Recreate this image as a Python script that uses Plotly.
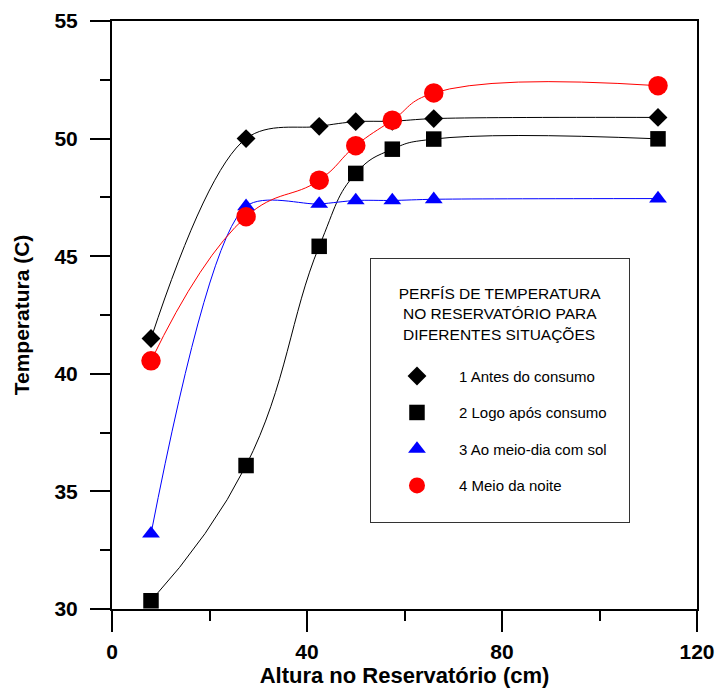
import plotly.graph_objects as go

altura = [8, 27.5, 42.5, 50, 57.5, 66, 112]
antes_consumo = [41.5, 50.0, 50.52, 50.72, 50.74, 50.85, 50.9]
apos_consumo = [30.35, 36.1, 45.42, 48.52, 49.55, 49.98, 49.99]
meio_dia_sol = [33.2, 47.12, 47.22, 47.37, 47.37, 47.42, 47.45]
meio_noite = [40.55, 46.68, 48.23, 49.7, 50.78, 51.94, 52.25]

names = ["1 Antes do consumo", "2 Logo após consumo",
         "3 Ao meio-dia com sol\u00a0\u00a0\u00a0\u00a0", "4 Meio da noite<br> "]
series = [antes_consumo, apos_consumo, meio_dia_sol, meio_noite]
colors = ["#000000", "#000000", "#0000ff", "#ff0000"]
symbols = ["diamond", "square", "triangle-up", "circle"]
sizes = [14.5, 15.5, 15.5, 19.5]
smooth = [1.0, 1.3, 0.8, 1.3]

x_ticks = [0, 40, 80, 120]
y_ticks = [30, 35, 40, 45, 50, 55]

FONT = "Liberation Sans, Arial, sans-serif"

fig = go.Figure()
for i, ys in enumerate(series):
    fig.add_trace(go.Scatter(
        x=altura, y=ys, mode="lines", showlegend=False, hoverinfo="skip",
        line=dict(color=colors[i], width=1, shape="spline", smoothing=smooth[i]),
        cliponaxis=False,
    ))
for i, (nm, ys) in enumerate(zip(names, series)):
    fig.add_trace(go.Scatter(
        x=altura, y=ys, name=nm, mode="markers",
        marker=dict(symbol=symbols[i], size=sizes[i], color=colors[i], line=dict(width=0)),
        legendgroup=str(i), cliponaxis=False,
    ))

fig.update_layout(
    width=717, height=691,
    margin=dict(l=112, r=20, t=21, b=82),
    paper_bgcolor="white", plot_bgcolor="white",
    font=dict(family=FONT, color="black"),
    showlegend=True,
    legend=dict(
        x=0.441, y=0.597, xanchor="left", yanchor="top",
        bgcolor="white", bordercolor="#333333", borderwidth=1,
        font=dict(family=FONT, size=15, color="black"),
        title=dict(text="<br>PERFÍS DE TEMPERATURA<br>\u00a0NO RESERVATÓRIO PARA<br>\u00a0DIFERENTES SITUAÇÕES<br>",
                   side="top center", font=dict(family=FONT, size=15.5, color="black")),
        tracegroupgap=14, itemwidth=74, indentation=4, valign="top",
    ),
    xaxis=dict(
        range=[0, 120], tickvals=x_ticks, ticktext=["<b>%d</b>" % v for v in x_ticks],
        ticks="outside", ticklen=21, tickwidth=2, tickcolor="black",
        minor=dict(dtick=20, tick0=0, ticks="outside", ticklen=10, tickwidth=2, tickcolor="black"),
        showline=True, linecolor="black", linewidth=2, mirror=True,
        showgrid=False, zeroline=False, automargin=False, ticklabelstandoff=2,
        tickfont=dict(family=FONT, size=21, color="black"),
        title=dict(text="<b>Altura no Reservatório (cm)</b>", font=dict(family=FONT, size=22, color="black"), standoff=0),
    ),
    yaxis=dict(
        range=[30, 55], tickvals=y_ticks, ticktext=["<b>%d</b>" % v for v in y_ticks],
        ticks="outside", ticklen=20, tickwidth=2, tickcolor="black",
        minor=dict(dtick=2.5, tick0=30, ticks="outside", ticklen=10, tickwidth=2, tickcolor="black"),
        showline=True, linecolor="black", linewidth=2, mirror=True,
        showgrid=False, zeroline=False, automargin=False, ticklabelstandoff=8,
        tickfont=dict(family=FONT, size=21, color="black"),
        title=dict(text="<b>Temperatura (C)</b>", font=dict(family=FONT, size=21, color="black"), standoff=19),
    ),
    yaxis2=dict(
        range=[30, 55], overlaying="y", side="right", anchor="x",
        tickvals=y_ticks, showticklabels=False, automargin=False,
        ticks="inside", ticklen=20, tickwidth=2, tickcolor="black",
        minor=dict(dtick=2.5, tick0=30, ticks="inside", ticklen=10, tickwidth=2, tickcolor="black"),
        showline=False, showgrid=False, zeroline=False,
    ),
)

fig.write_html("out.html")
